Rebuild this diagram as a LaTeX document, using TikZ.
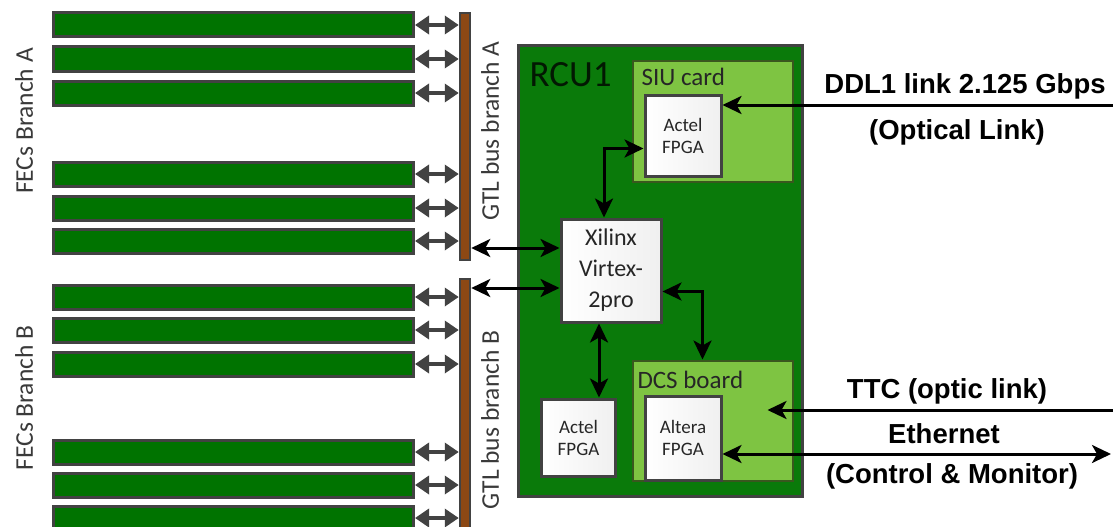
\documentclass[tikz,border=0pt]{standalone}
\usepackage{fontspec}
\setmainfont{Carlito}
\newfontfamily\arialfont{Liberation Sans}
\usepackage{xcolor}
\usetikzlibrary{arrows.meta,positioning,calc}

\definecolor{fecgreen}{RGB}{0,115,0}
\definecolor{rcugreen}{RGB}{10,122,10}
\definecolor{siugreen}{RGB}{126,196,66}
\definecolor{busbrown}{RGB}{140,72,20}
\definecolor{edgegray}{RGB}{66,66,66}
\definecolor{txtgray}{RGB}{58,58,58}

\begin{document}
\begin{tikzpicture}[x=1pt,y=-1pt,
  fec/.style={rectangle,draw=edgegray,line width=3pt,fill=fecgreen,minimum width=360pt,minimum height=24pt,inner sep=0pt},
  bus/.style={rectangle,draw=edgegray,line width=2.5pt,fill=busbrown,minimum width=10pt,inner sep=0pt},
  card/.style={rectangle,draw=black!55!siugreen,line width=2pt,fill=siugreen,minimum width=160pt,minimum height=120pt,inner sep=0pt},
  chip/.style={rectangle,draw=edgegray,line width=3pt,left color=white,right color=gray!12,align=center,inner sep=0pt,
    font=\fontsize{19}{22}\selectfont,text=black!85},
  lbl/.style={font=\fontsize{25.5}{30}\selectfont,text=txtgray},
  info/.style={font=\arialfont\bfseries\fontsize{27.5}{30}\selectfont,text=black},
  bi/.style={draw=edgegray,line width=4pt,{Triangle[length=14pt,width=18pt]}-{Triangle[length=14pt,width=18pt]}},
  link/.style={draw=black,line width=3pt},
  stl/.tip={Stealth[length=19pt,width=18pt,inset=5pt]}]
\useasboundingbox (0,0) rectangle (1113,527);
% front end cards and GTL buses
\node[bus,minimum height=247pt](busA) at (465,136.5){};
\node[bus,minimum height=262pt](busB) at (465,410){};
\foreach \n/\y in {1/25,2/59,3/93,4/174,5/208,6/241}{
  \node[fec](fa\n) at (233.5,\y){};
  \draw[bi](fa\n.east) -- (fa\n.east -| busA.west);
}
\foreach \n/\y in {1/297,2/330,3/364,4/452,5/485,6/518}{
  \node[fec](fb\n) at (233.5,\y){};
  \draw[bi](fb\n.east) -- (fb\n.east -| busB.west);
}
\node[lbl,rotate=90](brA) at (24,121){FECs Branch A};
\node[lbl,rotate=90](brB) at (24,398){FECs Branch B};
\node[lbl,rotate=90](gtlA) at (490,131){GTL bus branch A};
\node[lbl,rotate=90](gtlB) at (490,420){GTL bus branch B};
% readout control unit
\node[rectangle,draw=edgegray,line width=3pt,fill=rcugreen,minimum width=284pt,minimum height=450pt,inner sep=0pt](rcu) at (660,271){};
\node[font=\fontsize{37}{40}\selectfont,text=black!80!rcugreen,anchor=west](rcut) at (526,75){RCU1};
\node[card](siu) at (712.5,121.5){};
\node[card](dcs) at (712.5,420.5){};
\node[anchor=west,font=\fontsize{25}{28}\selectfont,text=black!85](siut) at (638,77){SIU card};
\node[anchor=west,font=\fontsize{25}{28}\selectfont,text=black!85](dcst) at (634,380){DCS board};
\node[chip,minimum width=76pt,minimum height=81pt](act1) at (683,135.5){Actel\\FPGA};
\node[chip,minimum width=74pt,minimum height=77pt](act2) at (578.5,437.5){Actel\\FPGA};
\node[chip,minimum width=76pt,minimum height=84pt](alt) at (683,438){Altera\\FPGA};
\node[chip,minimum width=100pt,minimum height=103pt,font=\fontsize{24}{31}\selectfont](xil) at (611,270.5){Xilinx\\Virtex-\\2pro};
% links inside the RCU
\coordinate (ya) at (0,248);
\coordinate (yb) at (0,288);
\draw[link,stl-stl](busA.east |- ya) -- (xil.west |- ya);
\draw[link,stl-stl](busB.east |- yb) -- (xil.west |- yb);
\draw[link,stl-stl]([xshift=-7pt]xil.north) |- ([yshift=-13pt]act1.west);
\draw[link,stl-stl]([yshift=-21pt]xil.east) -| ([xshift=-10pt]dcs.north);
\draw[link,stl-stl]([xshift=-12pt]xil.south) -- ([xshift=-12pt]xil.south |- act2.north);
% external links
\coordinate (ddl) at (1113,105);
\coordinate (ttc) at (1113,410);
\coordinate (eth) at (1111,454);
\draw[link,-stl](ddl) -- (act1.east |- ddl);
\draw[link,-stl](ttc) -- ([xshift=-26pt]dcs.east |- ttc);
\draw[link,stl-stl](alt.east |- eth) -- (eth);
\node[info](ddlt) at (965,86){DDL1 link 2.125 Gbps};
\node[info](optt) at (957,132){(Optical Link)};
\node[info](ttct) at (947,391){TTC (optic link)};
\node[info](etht) at (944,434){Ethernet};
\node[info](ctlt) at (952,476){(Control \& Monitor)};
\end{tikzpicture}
\end{document}
